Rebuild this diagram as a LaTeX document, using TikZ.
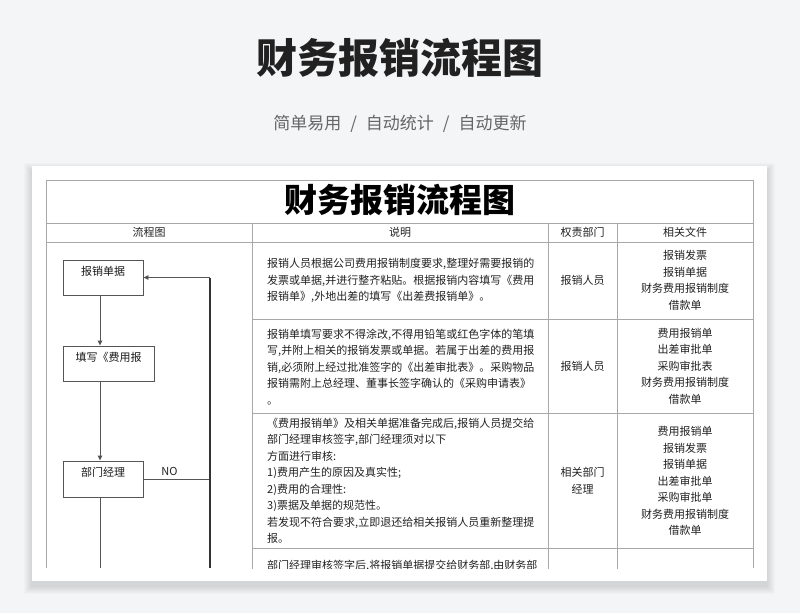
\documentclass[tikz,border=0pt]{standalone}
\usepackage{fontspec}
\setmainfont{Noto Sans CJK SC}
\usetikzlibrary{arrows.meta}
\definecolor{bg}{HTML}{F4F5F7}
\definecolor{grid}{HTML}{A8A8A8}
\definecolor{ink}{HTML}{222222}
\definecolor{flow}{HTML}{555555}
\definecolor{sub}{HTML}{666666}
\begin{document}
\begin{tikzpicture}[x=1pt,y=-1pt,
  cell/.style={font=\fontsize{11}{16.5}\selectfont, text=ink, inner sep=0pt},
  desc/.style={cell, anchor=west, align=left},
  files/.style={cell, align=center},
  head/.style={font=\fontsize{11}{13}\selectfont, text=ink, inner sep=0pt},
  gridline/.style={draw=grid, line width=0.9pt},
  box/.style={draw=flow, line width=0.9pt, fill=white, inner sep=0pt},
  btext/.style={font=\fontsize{11}{13}\selectfont, text=black!90, inner sep=0pt},
  flowline/.style={draw=flow, line width=0.9pt},
  arr/.style={flowline, -{Triangle[length=5pt,width=4.5pt]}},
  retline/.style={draw=black!80, line width=1.8pt},
]
\useasboundingbox (0,0) rectangle (800,613);
\fill[bg] (0,0) rectangle (800,613);

% titles
\node[text=black!87, inner sep=0pt] (title) at (400,58) {\fontsize{41}{41}\selectfont\bfseries 财务报销流程图};
\node[text=sub, inner sep=0pt] (subtitle) at (400,124) {\fontsize{17}{17}\selectfont 简单易用\hspace{9pt}/\hspace{9pt}自动统计\hspace{9pt}/\hspace{9pt}自动更新};

% card shadow and card
\foreach \i in {1,...,8}{
  \fill[black, opacity=0.014] (32-\i,166-\i+5) rectangle (767+\i,581+\i+5);
}
\fill[white] (32,166) rectangle (767,581);

% table frame
\draw[gridline] (46,568) -- (46,180) -- (753,180) -- (753,568);
\draw[gridline] (46,223) -- (753,223);
\draw[gridline] (46,242) -- (753,242);
\begin{scope}
  \clip (40,170) rectangle (760,568);
  \foreach \xx in {252,548,617}{
    \draw[gridline] (\xx,223) -- (\xx,570);
  }
  \foreach \yy in {319,413,548}{
    \draw[gridline] (252,\yy) -- (753,\yy);
  }
  \node[cell, anchor=base west] (d4) at (267,569) {部门经理审核签字后,将报销单据提交给财务部,由财务部};
\end{scope}

% table title and headers
\node[text=black, inner sep=0pt] (ttitle) at (400,200) {\fontsize{33}{33}\selectfont\bfseries 财务报销流程图};
\node[head] (h1) at (149,232.5) {流程图};
\node[head] (h2) at (400,232.5) {说明};
\node[head] (h3) at (582.5,232.5) {权责部门};
\node[head] (h4) at (685,232.5) {相关文件};

% description column
\node[desc] (d1) at (267,280.5) {报销人员根据公司费用报销制度要求,整理好需要报销的\\发票或单据,并进行整齐粘贴。根据报销内容填写《费用\\报销单》,外地出差的填写《出差费报销单》。};
\node[desc] (d2) at (267,367) {报销单填写要求不得涂改,不得用铅笔或红色字体的笔填\\写,并附上相关的报销发票或单据。若属于出差的费用报\\销,必须附上经过批准签字的《出差审批表》。采购物品\\报销需附上总经理、董事长签字确认的《采购申请表》\\。};
\node[desc] (d3) at (267,481) {《费用报销单》及相关单据准备完成后,报销人员提交给\\部门经理审核签字,部门经理须对以下\\方面进行审核:\\1)费用产生的原因及真实性;\\2)费用的合理性:\\3)票据及单据的规范性。\\若发现不符合要求,立即退还给相关报销人员重新整理提\\报。};

% responsibility column
\node[files] (r1) at (582.5,280.5) {报销人员};
\node[files] (r2) at (582.5,366) {报销人员};
\node[files] (r3) at (582.5,480.5) {相关部门\\经理};

% files column
\node[files] (f1) at (685,280.5) {报销发票\\报销单据\\财务费用报销制度\\借款单};
\node[files] (f2) at (685,366) {费用报销单\\出差审批单\\采购审批表\\财务费用报销制度\\借款单};
\node[files] (f3) at (685,481) {费用报销单\\报销发票\\报销单据\\出差审批单\\采购审批单\\财务费用报销制度\\借款单};

% flowchart
\coordinate (fx) at (100,0);
\coordinate (ret) at (210,0);
\coordinate (bot) at (100,568);
\coordinate (retbot) at (210,568);
\node[box, minimum width=80, minimum height=35] (b1) at (103,277.5) {};
\node[btext] (t1) at (103,271) {报销单据};
\node[box, minimum width=91, minimum height=35] (b2) at (108.5,363.5) {};
\node[btext] (t2) at (108.5,357) {填写《费用报};
\node[box, minimum width=80, minimum height=36] (b3) at (103,479) {};
\node[btext] (t3) at (103,472) {部门经理};

\draw[arr] (b1.south -| fx) -- (b2.north -| fx);
\draw[arr] (b2.south -| fx) -- (b3.north -| fx);
\draw[flowline] (b3.south -| fx) -- (bot);
\draw[flowline] (b3.east) -- (b3.east -| ret);
\node[font=\fontsize{11}{13}\selectfont, text=ink, inner sep=0pt] (no) at (169.5,471) {NO};
\draw[retline] (retbot) -- (b1.east -| ret);
\draw[flowline, -{Triangle[length=5pt,width=4.5pt]}] (b1.east -| ret) -- (b1.east);
\end{tikzpicture}
\end{document}
